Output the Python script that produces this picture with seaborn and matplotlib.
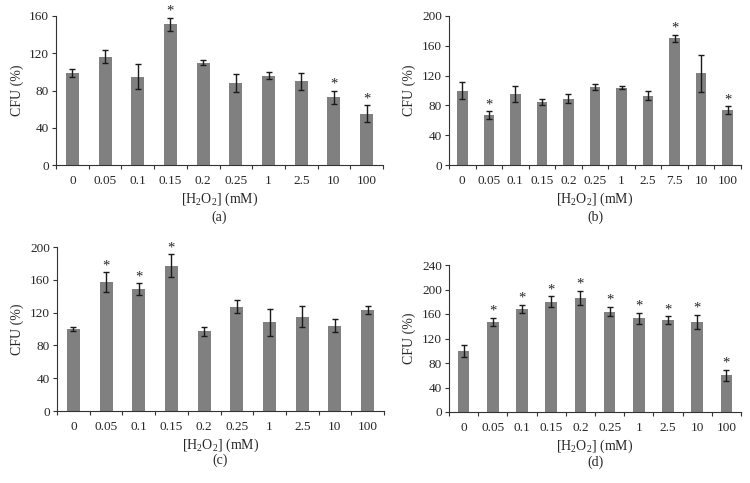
import matplotlib
matplotlib.use("Agg")
import matplotlib.pyplot as plt
import seaborn as sns
import pandas as pd

# panel data: concentrations (mM), CFU (%), error, significance
conc_a = ["0", "0.05", "0.1", "0.15", "0.2", "0.25", "1", "2.5", "10", "100"]
cfu_a = [99, 116, 95, 151, 110, 88, 96, 90, 73, 55]
err_a = [4, 7, 13, 7, 2.5, 10, 4, 9, 7, 9]
sig_a = [0, 0, 0, 1, 0, 0, 0, 0, 1, 1]

conc_b = ["0", "0.05", "0.1", "0.15", "0.2", "0.25", "1", "2.5", "7.5", "10", "100"]
cfu_b = [100, 67, 95, 85, 89, 105, 104, 93, 170, 123, 74]
err_b = [11, 5, 11, 4, 6, 4, 2, 6, 5, 25, 5]
sig_b = [0, 1, 0, 0, 0, 0, 0, 0, 1, 0, 1]

conc_c = ["0", "0.05", "0.1", "0.15", "0.2", "0.25", "1", "2.5", "10", "100"]
cfu_c = [100, 157, 149, 177, 97, 127, 108, 115, 104, 123]
err_c = [3, 12, 7, 14, 5, 8, 16, 13, 8, 5]
sig_c = [0, 1, 1, 1, 0, 0, 0, 0, 0, 0]

conc_d = ["0", "0.05", "0.1", "0.15", "0.2", "0.25", "1", "2.5", "10", "100"]
cfu_d = [100, 147, 168, 180, 186, 164, 153, 150, 147, 60]
err_d = [10, 7, 7, 9, 12, 8, 9, 6, 12, 9]
sig_d = [0, 1, 1, 1, 1, 1, 1, 1, 1, 1]

sns.set_style("white")
plt.rcParams["font.family"] = ["Liberation Serif", "DejaVu Serif"]
plt.rcParams["mathtext.default"] = "regular"

W, H = 750, 483
fig = plt.figure(figsize=(7.5, 4.83), dpi=100)


def px_axes(x0, x1, ytop, ybot):
    return fig.add_axes([x0 / W, 1 - ybot / H, (x1 - x0) / W, (ybot - ytop) / H])


def panel(ax, conc, cfu, err, sig, ymax, label, label_y):
    df = pd.DataFrame({"conc": conc, "cfu": cfu})
    sns.barplot(data=df, x="conc", y="cfu", color="#808080", saturation=1,
                width=0.4, ax=ax, order=conc)
    for p in ax.patches:
        p.set_edgecolor("none")
    xs = list(range(len(conc)))
    ax.errorbar(xs, cfu, yerr=err, fmt="none", ecolor="#1a1a1a",
                elinewidth=1.0, capsize=2.5, capthick=1.0)
    for x, v, e, s in zip(xs, cfu, err, sig):
        if s:
            ax.annotate("*", (x, v + e), xytext=(0, 0), textcoords="offset points",
                        ha="center", va="bottom", fontsize=10.5)
    ax.set_xlim(-0.5, len(conc) - 0.5)
    ax.set_ylim(0, ymax)
    ax.set_yticks(range(0, ymax + 1, 40))
    ax.set_xticks(xs)
    ax.set_xticklabels(conc, fontsize=9.5)
    ax.set_xticks([i - 0.5 for i in range(len(conc) + 1)], minor=True)
    ax.tick_params(axis="x", which="major", length=0, pad=7)
    ax.tick_params(axis="x", which="minor", length=3, width=0.8, direction="out",
                   bottom=True, color="#333333")
    ax.tick_params(axis="y", length=3, width=0.8, direction="out", left=True,
                   labelsize=9.5, pad=2, color="#333333")
    for side in ["top", "right"]:
        ax.spines[side].set_visible(False)
    for side in ["left", "bottom"]:
        ax.spines[side].set_linewidth(0.8)
        ax.spines[side].set_color("#333333")
    ax.set_xlabel("[H$_2$O$_2$] (mM)", fontsize=10, labelpad=3)
    ax.set_ylabel("CFU (%)", fontsize=10, labelpad=4)
    pos = ax.get_position()
    fig.text((pos.x0 + pos.x1) / 2, 1 - label_y / H, label, ha="center",
             va="center", fontsize=10)


ax_a = px_axes(56, 383, 16, 165)
panel(ax_a, conc_a, cfu_a, err_a, sig_a, 160, "(a)", 217)
ax_b = px_axes(449, 741, 16, 165)
panel(ax_b, conc_b, cfu_b, err_b, sig_b, 200, "(b)", 217)
ax_c = px_axes(57, 384, 247, 411)
panel(ax_c, conc_c, cfu_c, err_c, sig_c, 200, "(c)", 460)
ax_d = px_axes(449, 741, 265, 412)
panel(ax_d, conc_d, cfu_d, err_d, sig_d, 240, "(d)", 462)

fig.savefig("out.png", dpi=100)
